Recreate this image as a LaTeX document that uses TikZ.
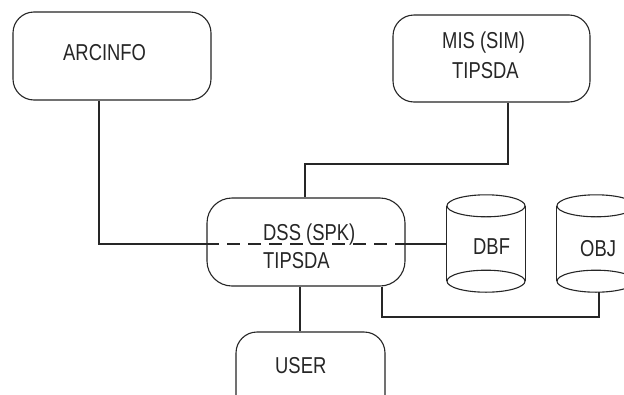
\documentclass[tikz,border=0pt]{standalone}
\usepackage{fontspec}
\setmainfont{Liberation Sans}[FakeStretch=0.8]
\begin{document}
\begin{tikzpicture}[x=1pt,y=-1pt,
  ln/.style={line width=1.1pt,draw=black!85},
  box/.style={ln,rounded corners=21pt,minimum width=#1,inner sep=0pt},
  lbl/.style={anchor=base west,inner sep=0pt,text=black!85,font=\fontsize{23}{26}\selectfont},
  cyl/.style={minimum width=78pt,minimum height=97pt,inner sep=0pt}]
\useasboundingbox (0,0) rectangle (624,394);
\clip (0,0) rectangle (624,394);
\fill[white] (0,0) rectangle (624,394);
% boxes
\node[box=198pt,minimum height=88pt] (arc) at (112,56) {};
\node[box=197pt,minimum height=87pt] (mis) at (491.5,58.5) {};
\node[box=198pt,minimum height=88pt,rounded corners=25pt] (dss) at (306,242) {};
\node[box=149pt,minimum height=84pt] (user) at (310.5,374) {};
% cylinders
\node[cyl] (dbf) at (486,243.5) {};
\node[cyl] (obj) at (596,243.5) {};
\foreach \c in {dbf,obj}{
  \draw[ln] ([yshift=-11pt]\c.north west) -- ([yshift=11pt]\c.south west);
  \draw[ln] ([yshift=-11pt]\c.north east) -- ([yshift=11pt]\c.south east);
  \draw[ln] ([yshift=-11pt]\c.north) ellipse [x radius=39pt,y radius=11pt];
  \draw[ln] ([yshift=11pt]\c.south) ellipse [x radius=39pt,y radius=11pt];
}
% labels
\node[lbl] (tarc) at (63,60) {ARCINFO};
\node[lbl] (tmis1) at (442,48) {MIS (SIM)};
\node[lbl] (tmis2) at (452,78) {TIPSDA};
\node[lbl] (tdss1) at (263,240) {DSS (SPK)};
\node[lbl] (tdss2) at (263,268) {TIPSDA};
\node[lbl] (tuser) at (275,373) {USER};
\node[lbl] (tdbf) at (473,254) {DBF};
\node[lbl] (tobj) at (580,256) {OBJ};
% connectors
\coordinate (j1) at (99,244);
\draw[ln] (arc.south -| j1) -- (j1) -- (dss.west |- j1);
\draw[ln,dash pattern=on 13pt off 8pt] (dss.west |- j1) -- (dss.east |- j1);
\draw[ln] (dss.east |- j1) -- (dbf.west |- j1);
\coordinate (j2) at (508,164);
\coordinate (j3) at (305,164);
\draw[ln] (mis.south -| j2) -- (j2) -- (j3) -- (dss.north -| j3);
\coordinate (j4) at (300,300);
\draw[ln] (dss.south -| j4) -- (user.north -| j4);
\coordinate (j5) at (382,317);
\coordinate (j6) at (599,317);
\draw[ln] (dss.south -| j5) -- (j5) -- (j6) -- (obj.south -| j6);
\end{tikzpicture}
\end{document}
